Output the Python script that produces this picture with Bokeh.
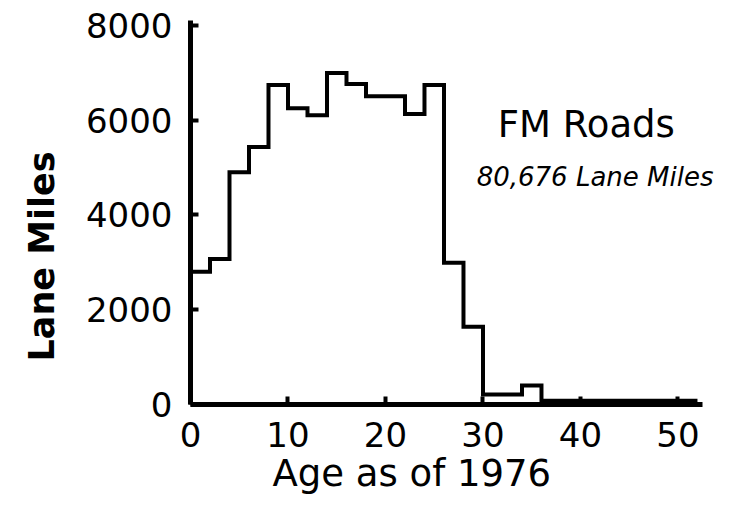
from bokeh.plotting import figure
from bokeh.models import FixedTicker, Range1d, Label, Title
from bokeh.embed import file_html
from bokeh.resources import INLINE

# Data: lane miles per 2-year age bin (age as of 1976)
bin_edges = [0, 2, 4, 6, 8, 10, 12, 14, 16, 18, 20, 22, 24, 26, 28, 30, 32, 34,
             36, 38, 40, 42, 44, 46, 48, 50, 52]
lane_miles = [2800, 3070, 4900, 5430, 6740, 6250, 6100, 6990, 6760, 6500, 6500,
              6130, 6740, 2990, 1640, 210, 210, 400,
              80, 80, 80, 80, 80, 80, 80, 80]
x_ticks = [0, 10, 20, 30, 40, 50]
y_ticks = [0, 2000, 4000, 6000, 8000]

FONT = "DejaVu Sans"

p = figure(width=723, height=494, output_backend="svg", toolbar_location=None,
           x_range=Range1d(0, 54.67), y_range=Range1d(0, 8100),
           min_border_left=190, min_border_right=0, min_border_top=20,
           min_border_bottom=89)
p.grid.visible = False
p.outline_line_color = None
p.background_fill_color = "white"

xs = bin_edges
ys = lane_miles + [lane_miles[-1]]
p.step(xs, ys, mode="after", line_color="black", line_width=4, line_join="miter")

for ax in (p.xaxis[0], p.yaxis[0]):
    ax.axis_line_width = 5
    ax.axis_line_color = "black"
    ax.major_tick_line_width = 4
    ax.major_tick_line_color = "black"
    ax.major_tick_in = 8
    ax.major_tick_out = 0
    ax.minor_tick_line_color = None
    ax.major_label_text_font = FONT
    ax.major_label_text_font_size = "34px"
    ax.major_label_text_color = "black"

p.xaxis.bounds = (0, 52.5)
p.xaxis.ticker = FixedTicker(ticks=x_ticks)
p.yaxis.ticker = FixedTicker(ticks=y_ticks)
p.xaxis.major_label_standoff = 17
p.yaxis.major_label_standoff = 18

xlab = Title(text="Age as of 1976", align="left", offset=82, standoff=0,
             text_font=FONT, text_font_size="37px", text_font_style="normal",
             text_color="black")
p.add_layout(xlab, "below")
ylab = Title(text="Lane Miles", align="left", offset=43, standoff=38,
             vertical_align="top",
             text_font=FONT, text_font_size="35px", text_font_style="bold",
             text_color="black")
p.add_layout(ylab, "left")

p.add_layout(Label(x=40.6, y=5900, text="FM Roads", text_font=FONT,
                   text_font_size="37px", text_align="center",
                   text_baseline="middle", text_color="black"))
p.add_layout(Label(x=41.5, y=4800, text="80,676 Lane Miles", text_font=FONT,
                   text_font_size="26px", text_font_style="italic",
                   text_align="center", text_baseline="middle",
                   text_color="black"))

open("out.html", "w").write(file_html(p, INLINE))
